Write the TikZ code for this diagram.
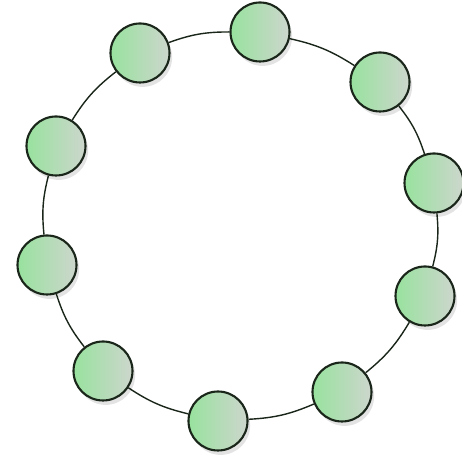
\documentclass[tikz,border=0pt]{standalone}
\usetikzlibrary{shadows}
\definecolor{ink}{HTML}{1A261A}
\definecolor{leafL}{HTML}{98E29E}
\definecolor{leafR}{HTML}{CDD6CD}
\tikzset{
  peer/.style={circle,draw=ink,line width=1.2pt,minimum size=1.18cm,inner sep=0pt,
    left color=leafL,right color=leafR,
    drop shadow={shadow xshift=1.5pt,shadow yshift=-2.5pt,opacity=0.22}},
  ring/.style={line width=0.8pt,draw=ink}
}
\begin{document}
\begin{tikzpicture}[x=1cm,y=1cm]
        \useasboundingbox (0,0) rectangle (9.24,9.22);
        \foreach \n/\x/\y in {1/2.80/8.16,2/5.20/8.58,3/7.60/7.58,4/8.68/5.56,5/8.50/3.30,
                              6/6.84/1.38,7/4.36/0.80,8/2.06/1.80,9/0.94/3.92,10/1.12/6.30} {
          \node[peer] (p\n) at (\x,\y) {};
        }
        \foreach \a/\b in {1/2,2/3,3/4,4/5,5/6,6/7,7/8,8/9,9/10,10/1} {
          \draw[ring] (p\a) to[bend left=10] (p\b);
        }
      \end{tikzpicture}
\end{document}
